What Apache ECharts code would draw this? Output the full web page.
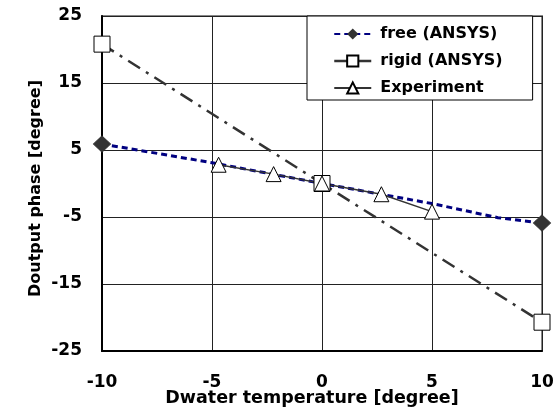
<!DOCTYPE html>
<html><head><meta charset="utf-8">
<script src="https://cdn.jsdelivr.net/npm/echarts@6/dist/echarts.min.js"></script>
<style>html,body{margin:0;padding:0;background:#fff}#c{width:559px;height:410px}</style>
</head><body><div id="c"></div>
<script>
const xTicks = [-10, -5, 0, 5, 10];
const yTicks = [-25, -15, -5, 5, 15, 25];
const freeX = [-10, -5, 0, 5, 8, 10];
const freeY = [5.9, 3.1, 0, -3.0, -5.1, -5.9];
const rigidX = [-10, 0, 10];
const rigidY = [20.8, 0, -20.7];
const expX = [-4.7, -2.2, 0, 2.7, 5];
const expY = [2.8, 1.4, 0, -1.6, -4.2];

const font = '"DejaVu Sans", sans-serif';
const chart = echarts.init(document.getElementById('c'));
chart.setOption({
  animation: false,
  backgroundColor: '#fff',
  grid: {left: 102, right: 17, top: 16, bottom: 59, containLabel: false, outerBoundsMode: 'none',
         show: true, borderColor: '#888', borderWidth: 2, backgroundColor: 'transparent'},
  legend: {
    data: [
      {name: 'free (ANSYS)'},
      {name: 'rigid (ANSYS)', lineStyle: {type: 'solid', width: 2.5, color: '#333'}},
      {name: 'Experiment'}
    ],
    orient: 'vertical', left: 307, top: 16,
    backgroundColor: '#fff', borderColor: '#000', borderWidth: 1, borderRadius: 0,
    padding: [10, 30, 4, 26], itemGap: 11, itemWidth: 37, itemHeight: 14,
    textStyle: {fontFamily: font, fontWeight: 'bold', fontSize: 16, color: '#000', padding: [0, 0, 0, 4]}
  },
  xAxis: {
    type: 'value', min: xTicks[0], max: xTicks[xTicks.length - 1], interval: 5,
    name: 'Dwater temperature [degree]', nameLocation: 'middle', nameGap: 38, nameMoveOverlap: false,
    nameTextStyle: {fontFamily: font, fontWeight: 'bold', fontSize: 17.5, color: '#000', padding: [0, 20, 0, 0]},
    axisLine: {onZero: false, lineStyle: {color: '#000', width: 2}},
    axisTick: {show: false},
    axisLabel: {margin: 23, hideOverlap: false, fontFamily: font, fontWeight: 'bold', fontSize: 17, color: '#000'},
    splitLine: {show: true, lineStyle: {color: '#222', width: 1}}
  },
  yAxis: {
    type: 'value', min: yTicks[0], max: yTicks[yTicks.length - 1], interval: 10,
    name: 'Doutput phase [degree]', nameLocation: 'middle', nameGap: 58, nameMoveOverlap: false,
    nameTextStyle: {fontFamily: font, fontWeight: 'bold', fontSize: 16, color: '#000', padding: [0, 10, 0, 0]},
    axisLine: {onZero: false, lineStyle: {color: '#000', width: 2}},
    axisTick: {show: false},
    axisLabel: {margin: 20, hideOverlap: false, fontFamily: font, fontWeight: 'bold', fontSize: 17, color: '#000'},
    splitLine: {show: true, lineStyle: {color: '#222', width: 1}}
  },
  series: [
    {
      name: 'free (ANSYS)', type: 'line',
      data: freeX.map((x, i) => ({value: [x, freeY[i]], symbol: (i === 0 || i === freeX.length - 1) ? 'diamond' : 'none'})),
      symbol: 'diamond', symbolSize: [17, 16], showAllSymbol: true,
      lineStyle: {color: '#000080', width: 3, type: [6, 4]},
      itemStyle: {color: '#333', borderColor: '#333'}
    },
    {
      name: 'rigid (ANSYS)', type: 'line',
      data: rigidX.map((x, i) => [x, rigidY[i]]),
      symbol: 'rect', symbolSize: 16,
      lineStyle: {color: '#333', width: 2.5, type: [14, 7, 3, 7]},
      itemStyle: {color: '#fff', borderColor: '#000', borderWidth: 1}
    },
    {
      name: 'Experiment', type: 'line',
      data: expX.map((x, i) => [x, expY[i]]),
      symbol: 'triangle', symbolSize: 15,
      lineStyle: {color: '#333', width: 1.5},
      itemStyle: {color: '#fff', borderColor: '#000', borderWidth: 1}
    }
  ]
});
</script></body></html>
